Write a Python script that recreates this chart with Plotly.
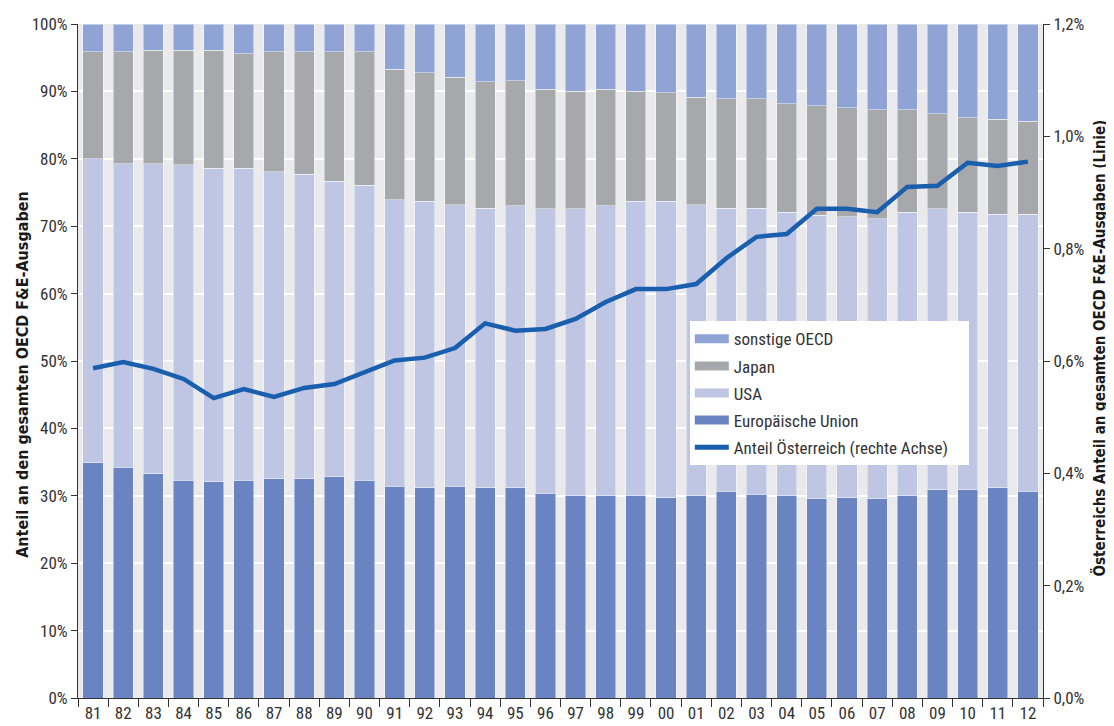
import plotly.graph_objects as go

years = ["81", "82", "83", "84", "85", "86", "87", "88", "89", "90", "91", "92", "93", "94", "95", "96",
         "97", "98", "99", "00", "01", "02", "03", "04", "05", "06", "07", "08", "09", "10", "11", "12"]

eu = [34.9, 34.2, 33.3, 32.3, 32.1, 32.3, 32.5, 32.5, 32.8, 32.3, 31.4, 31.2, 31.4, 31.2, 31.2, 30.4,
      30.0, 30.0, 30.0, 29.7, 30.0, 30.7, 30.2, 30.0, 29.6, 29.7, 29.6, 30.0, 30.9, 30.9, 31.2, 30.7]
usa = [45.1, 45.1, 46.0, 46.8, 46.5, 46.3, 45.6, 45.2, 43.9, 43.8, 42.5, 42.5, 41.8, 41.5, 41.8, 42.2,
       42.6, 43.0, 43.7, 44.0, 43.2, 42.0, 42.5, 42.1, 42.0, 41.7, 41.5, 42.1, 41.7, 41.2, 40.6, 41.1]
japan = [15.9, 16.6, 16.8, 17.0, 17.5, 17.0, 17.8, 18.2, 19.2, 19.8, 19.4, 19.1, 18.9, 18.7, 18.6, 17.7,
         17.4, 17.3, 16.3, 16.1, 15.9, 16.2, 16.2, 16.1, 16.3, 16.2, 16.2, 15.2, 14.1, 14.0, 14.1, 13.8]
other = [4.1, 4.1, 3.9, 3.9, 3.9, 4.4, 4.1, 4.1, 4.1, 4.1, 6.7, 7.2, 7.9, 8.6, 8.4, 9.7,
         10.0, 9.7, 10.0, 10.2, 10.9, 11.1, 11.1, 11.8, 12.1, 12.4, 12.7, 12.7, 13.3, 13.9, 14.1, 14.4]
austria = [0.587, 0.598, 0.586, 0.568, 0.534, 0.550, 0.536, 0.552, 0.559, 0.579, 0.601, 0.606, 0.623,
           0.667, 0.654, 0.657, 0.675, 0.705, 0.728, 0.728, 0.737, 0.783, 0.821, 0.826, 0.871, 0.871,
           0.865, 0.910, 0.912, 0.953, 0.947, 0.955]

left_ticks = [0, 10, 20, 30, 40, 50, 60, 70, 80, 90, 100]
left_labels = ["0%", "10%", "20%", "30%", "40%", "50%", "60%", "70%", "80%", "90%", "100%"]
right_ticks = [0, 0.2, 0.4, 0.6, 0.8, 1.0, 1.2]
right_labels = ["0,0%", "0,2%", "0,4%", "0,6%", "0,8%", "1,0%", "1,2%"]

C_EU = "#6a84c2"
C_USA = "#bec6e3"
C_JP = "#a7a8ac"
C_OT = "#8fa3d4"
C_LINE = "#1a5eae"
C_TXT = "#333333"

FONT = "Roboto Condensed, DejaVu Sans Condensed, sans-serif"
TITLE_FONT = "DejaVu Sans Condensed, Roboto Condensed, sans-serif"
NB = "\u00a0"

fig = go.Figure()
bar_line = dict(color="rgba(255,255,255,0.45)", width=1)
for name, vals, col in [("Europäische Union", eu, C_EU), ("USA", usa, C_USA),
                        ("Japan", japan, C_JP), ("sonstige OECD", other, C_OT)]:
    fig.add_trace(go.Bar(x=years, y=vals, name=name, marker=dict(color=col, line=bar_line),
                         showlegend=False))

fig.add_trace(go.Scatter(x=years, y=austria, mode="lines", yaxis="y2", showlegend=False,
                         line=dict(color=C_LINE, width=4.5)))

for rank, (name, col, w) in enumerate([("sonstige OECD", C_OT, 9), ("Japan", C_JP, 9),
                                       ("USA", C_USA, 9), ("Europäische Union", C_EU, 9),
                                       ("Anteil Österreich (rechte Achse)" + NB * 4, C_LINE, 5)]):
    fig.add_trace(go.Scatter(x=[None], y=[None], mode="lines", name=name, legendrank=rank + 1,
                             legendgroup="g%d" % rank,
                             line=dict(color=col, width=w), showlegend=True))

fig.update_layout(
    width=1106, height=718,
    margin=dict(l=70, r=71, t=16, b=28, autoexpand=False),
    barmode="stack", bargap=0.33,
    paper_bgcolor="white", plot_bgcolor="#eaeaed",
    font=dict(family=FONT, size=17, color=C_TXT),
    legend=dict(x=0.634, y=0.559, xanchor="left", yanchor="top", bgcolor="white",
                borderwidth=0, traceorder="grouped", font=dict(size=17, color=C_TXT),
                itemwidth=34, tracegroupgap=2),
    xaxis=dict(type="category", tickson="boundaries", ticks="outside", ticklen=8,
               tickcolor=C_TXT, showline=True, linecolor=C_TXT, linewidth=1, automargin=False,
               showgrid=False, tickfont=dict(size=17)),
    yaxis=dict(range=[0, 100], tickmode="array", tickvals=left_ticks, ticktext=left_labels,
               ticks="outside", ticklen=6, automargin=False,
               tickcolor=C_TXT, showline=True, linecolor=C_TXT, linewidth=1,
               gridcolor="white", gridwidth=2, zeroline=False, tickfont=dict(size=17)),
    yaxis2=dict(range=[0, 1.2], tickmode="array", tickvals=right_ticks, ticktext=right_labels,
                overlaying="y", side="right", ticks="outside", ticklen=6, tickcolor=C_TXT,
                automargin=False,
                showline=True, linecolor=C_TXT, linewidth=1, showgrid=False, zeroline=False,
                tickfont=dict(size=17)),
    annotations=[
        dict(text="<b>Anteil an den gesamten OECD F&E-Ausgaben</b>", textangle=-90,
             xref="paper", yref="paper", x=-0.057, y=0.481, xanchor="center", yanchor="middle",
             showarrow=False, font=dict(family=TITLE_FONT, size=16, color="#1a1a1a")),
        dict(text="<b>Österreichs Anteil an gesamten OECD F&E-Ausgaben (Linie)</b>", textangle=-90,
             xref="paper", yref="paper", x=1.059, y=0.52, xanchor="center", yanchor="middle",
             showarrow=False, font=dict(family=TITLE_FONT, size=15, color="#1a1a1a")),
    ],
)

fig.write_html("out.html")
